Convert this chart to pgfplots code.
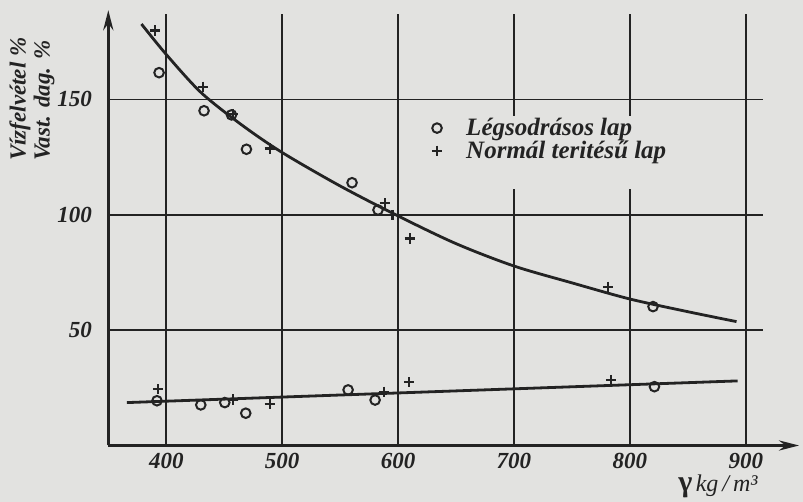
\documentclass[border=0pt]{standalone}
\usepackage{pgfplots}
\pgfplotsset{compat=1.18}
\usepackage{fontspec}
\setmainfont{Liberation Serif}
\usetikzlibrary{arrows.meta}
\definecolor{paper}{RGB}{226,226,224}
\definecolor{ink}{RGB}{35,35,35}
\newcommand{\lblfont}{\fontsize{11.5}{12}\selectfont\bfseries\itshape}
\newcommand{\legfont}{\fontsize{12.5}{13}\selectfont\bfseries\itshape}
\begin{document}
\begin{tikzpicture}
\path[use as bounding box, fill=paper] (-54.15pt,-28.25pt) rectangle (347.35pt,222.75pt);
\begin{axis}[
  x={(0.5795pt,0)}, y={(0,1.1535pt)},
  xmin=350, xmax=915, ymin=0, ymax=187,
  axis lines=left,
  axis line style={ink, line width=1.8pt},
  x axis line style={-{Stealth[length=10pt,width=5pt]}, shorten >=-18pt},
  y axis line style={-{Stealth[length=10pt,width=5pt]}, shorten >=-2pt},
  xtick={400,500,600,700,800,900},
  ytick={50,100,150},
  major tick length=0pt,
  grid=major,
  major grid style={ink, line width=0.8pt},
  /pgf/number format/assume math mode=true,
  tick label style={font=\lblfont, text=ink},
  xticklabel style={inner sep=0pt, yshift=-3.5pt},
  yticklabel style={inner sep=0pt, xshift=-8pt},
  legend style={at={(axis cs:628.8,143.9)}, anchor=north west, draw=none, fill=none,
    font=\legfont, text=ink, inner sep=0pt, row sep=-2.9pt, cells={anchor=west},
    /tikz/every odd column/.append style={column sep=10pt}},
  clip=false,
]
\fill[paper] (axis cs:619,111) rectangle (axis cs:852,143);
% upper curve (water absorption)
\addplot[ink, line width=1.4pt, smooth, forget plot] coordinates {
  (378.6,182.7) (400,169.5) (430,153) (465,139) (500,127) (550,112.5) (600,99.5)
  (650,87.5) (700,77.8) (750,70.5) (800,63.5) (850,58) (892,53.7)};
% lower line (thickness swelling)
\addplot[ink, line width=1.4pt, forget plot] coordinates {(366,18.6) (893,28.0)};
% upper circles
\addplot[only marks, mark=o, mark size=2.4pt, mark options={ink, line width=1pt}] coordinates {
  (393.8,161.6) (432.6,145.1) (456.3,143.3) (469.2,128.4) (560.3,113.9) (582.7,102.1) (820,60.2)};
\addlegendentry{Légsodrásos lap}
% upper plus
\addplot[only marks, mark=+, mark size=2.6pt, mark options={ink, line width=1.2pt}] coordinates {
  (390.1,179.8) (431.8,155.5) (457.6,143.7) (489.3,128.8) (588.5,105.0) (595.2,99.9) (610.1,89.8) (781.2,68.8)};
\addlegendentry{Normál teritésű lap}
% lower circles
\addplot[only marks, mark=o, mark size=2.4pt, mark options={ink, line width=1pt}, forget plot] coordinates {
  (392,19.4) (429.8,17.6) (450.5,18.6) (468.6,14.0) (556.9,24.1) (580.2,19.7) (821.2,25.5)};
% lower plus
\addplot[only marks, mark=+, mark size=2.6pt, mark options={ink, line width=1.2pt}, forget plot] coordinates {
  (393,24.4) (457.6,20.0) (489.3,18.0) (587.9,23.3) (609.5,27.4) (783.8,28.4)};
\end{axis}
\node[rotate=90, anchor=west, font=\lblfont, text=ink] at (-44.15pt,138.75pt) {Vízfelvétel \%};
\node[rotate=90, anchor=west, font=\lblfont, text=ink] at (-32.15pt,138.75pt) {Vast. dag. \%};
\node[anchor=west, text=ink, inner sep=0pt] at (284.85pt,-20.25pt) {{\fontsize{15}{15}\selectfont\bfseries γ}\,{\fontsize{12}{12}\selectfont\itshape kg\,/\,m³}};
\end{tikzpicture}
\end{document}
